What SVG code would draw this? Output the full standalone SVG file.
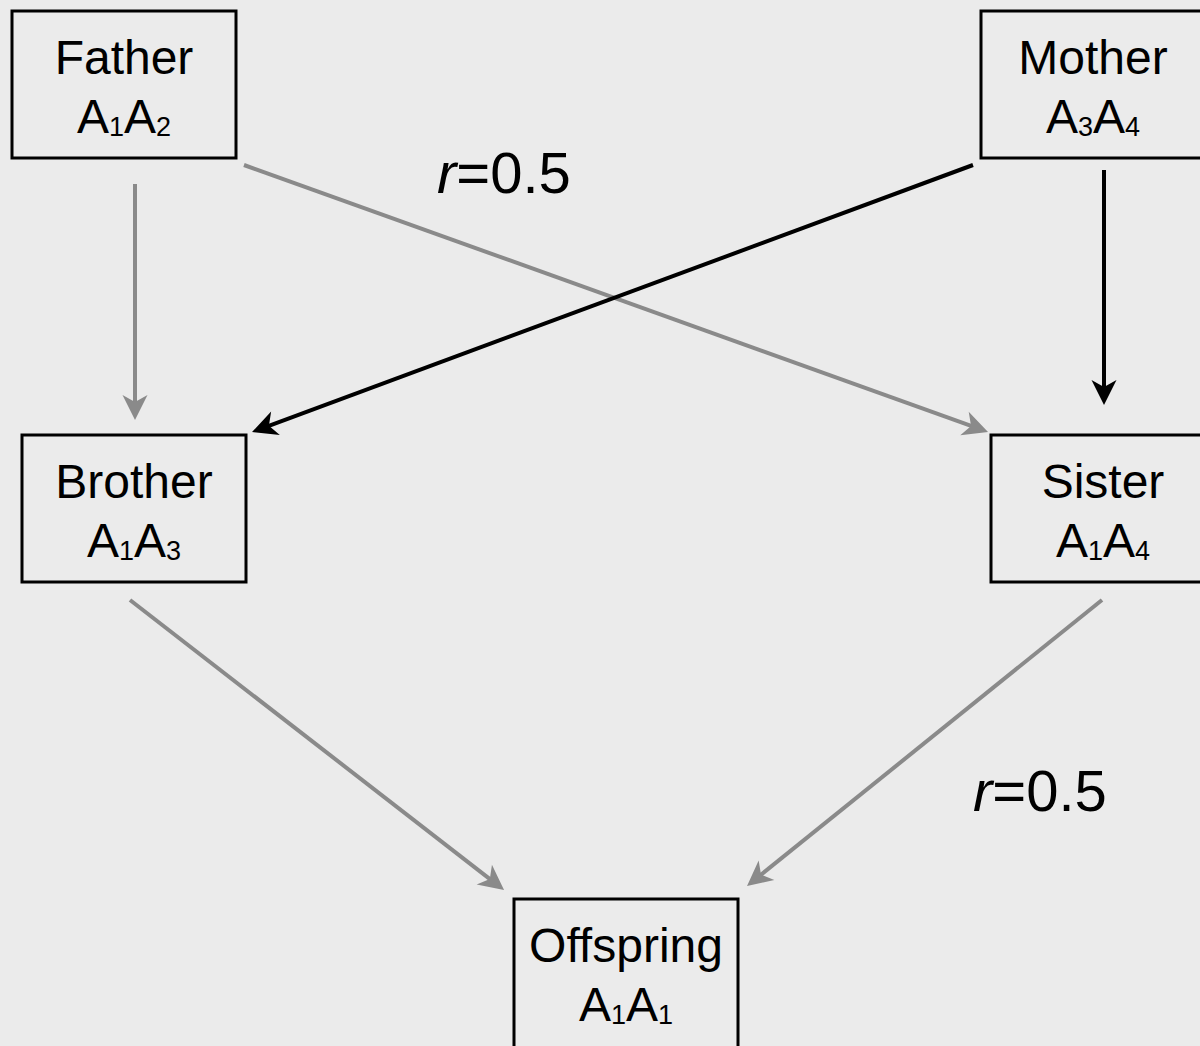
<svg xmlns="http://www.w3.org/2000/svg" width="1200" height="1046" viewBox="0 0 1200 1046">
<style>
.box{fill:#ebebeb;stroke:#000;stroke-width:3}
.t{font-family:"Liberation Sans",Arial,Helvetica,sans-serif;font-size:48px;fill:#000;text-anchor:middle}
.s{font-size:27px}
.lbl{font-family:"Liberation Sans",Arial,Helvetica,sans-serif;font-size:58px;fill:#000}
.g{stroke:#8a8a8a;stroke-width:4;fill:none}
.k{stroke:#000;stroke-width:4;fill:none}
</style>
<defs>
<path id="ah" d="M30,15 L5,2.5 L12,15 L5,27.5 Z"/>
<marker id="ag" markerUnits="userSpaceOnUse" markerWidth="32" markerHeight="30" refX="15" refY="15" orient="auto">
<use href="#ah" fill="#8a8a8a"/>
</marker>
<marker id="ak" markerUnits="userSpaceOnUse" markerWidth="32" markerHeight="30" refX="15" refY="15" orient="auto">
<use href="#ah" fill="#000"/>
</marker>
</defs>
<rect width="1200" height="1046" fill="#ebebeb"/>
<g id="connectors">
<line class="g" x1="135" y1="184" x2="135" y2="405" marker-end="url(#ag)"/>
<line class="g" x1="244" y1="165" x2="973.9" y2="426.9" marker-end="url(#ag)"/>
<line class="k" x1="973" y1="165" x2="266.1" y2="426.8" marker-end="url(#ak)"/>
<line class="k" x1="1104" y1="170" x2="1104" y2="390" marker-end="url(#ak)"/>
<line class="g" x1="130" y1="600" x2="492.2" y2="880.8" marker-end="url(#ag)"/>
<line class="g" x1="1102" y1="600" x2="758.7" y2="876.6" marker-end="url(#ag)"/>
</g>
<g id="father">
<rect class="box" x="12" y="11" width="224" height="147"/>
<text class="t" x="124" y="74">Father</text>
<text class="t" x="124" y="133">A<tspan class="s" dy="3">1</tspan><tspan dy="-3">A</tspan><tspan class="s" dy="3">2</tspan></text>
</g>
<g id="mother">
<rect class="box" x="981" y="11" width="224" height="147"/>
<text class="t" x="1093" y="74">Mother</text>
<text class="t" x="1093" y="133">A<tspan class="s" dy="3">3</tspan><tspan dy="-3">A</tspan><tspan class="s" dy="3">4</tspan></text>
</g>
<g id="brother">
<rect class="box" x="22" y="435" width="224" height="147"/>
<text class="t" x="134" y="498">Brother</text>
<text class="t" x="134" y="557">A<tspan class="s" dy="3">1</tspan><tspan dy="-3">A</tspan><tspan class="s" dy="3">3</tspan></text>
</g>
<g id="sister">
<rect class="box" x="991" y="435" width="224" height="147"/>
<text class="t" x="1103" y="498">Sister</text>
<text class="t" x="1103" y="557">A<tspan class="s" dy="3">1</tspan><tspan dy="-3">A</tspan><tspan class="s" dy="3">4</tspan></text>
</g>
<g id="offspring">
<rect class="box" x="514" y="899" width="224" height="160"/>
<text class="t" x="626" y="962">Offspring</text>
<text class="t" x="626" y="1021">A<tspan class="s" dy="3">1</tspan><tspan dy="-3">A</tspan><tspan class="s" dy="3">1</tspan></text>
</g>
<g id="labels">
<text class="lbl" x="437" y="193"><tspan font-style="italic">r</tspan>=0.5</text>
<text class="lbl" x="973" y="811"><tspan font-style="italic">r</tspan>=0.5</text>
</g>
</svg>
